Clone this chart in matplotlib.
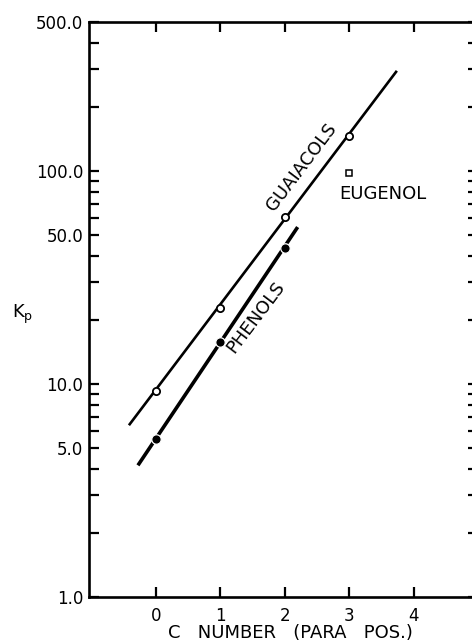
import numpy as np
import matplotlib
matplotlib.use("Agg")
import matplotlib.pyplot as plt
from matplotlib.ticker import FixedLocator, FixedFormatter, NullFormatter

# ---- data ----
guaiacol_x = [0, 1, 2, 3]
guaiacol_kp = [9.3, 22.7, 60.8, 146.0]
guaiacol_line_x = [-0.42, 3.74]
guaiacol_line_kp = [6.4, 295.0]

phenol_x = [0, 1, 2]
phenol_kp = [5.5, 15.7, 43.5]
phenol_line_x = [-0.28, 2.2]
phenol_line_kp = [4.15, 54.5]

eugenol_x = [3]
eugenol_kp = [98.0]

x_ticks = [0, 1, 2, 3, 4]
x_ticklabels = ["0", "1", "2", "3", "4"]
y_major = [1, 5, 10, 50, 100, 500]
y_major_labels = ["1.0", "5.0", "10.0", "50.0", "100.0", "500.0"]
y_minor = [2, 3, 4, 6, 7, 8, 9, 20, 30, 40, 60, 70, 80, 90, 200, 300, 400]

plt.rcParams['font.family'] = ['DejaVu Sans']

W, H = 472, 644
fig = plt.figure(figsize=(W / 100, H / 100), dpi=100)
left, right, top, bottom = 89, 478, 22, 597
ax = fig.add_axes([left / W, 1 - bottom / H, (right - left) / W, (bottom - top) / H])

ax.set_yscale('log')
ax.set_xlim(-1.04, 5.0)
ax.set_ylim(1, 500)

# lines
ax.plot(guaiacol_line_x, guaiacol_line_kp, color='black', lw=1.9, solid_capstyle='butt', zorder=2)
ax.plot(phenol_line_x, phenol_line_kp, color='black', lw=2.6, solid_capstyle='butt', zorder=2)

# points
ax.plot(guaiacol_x, guaiacol_kp, 'o', ms=5.2, mfc='white', mec='black', mew=1.3, zorder=3)
ax.plot(phenol_x, phenol_kp, 'o', ms=6.8, mfc='black', mec='white', mew=0.9, zorder=3)
ax.plot(eugenol_x, eugenol_kp, 's', ms=4.0, mfc='white', mec='black', mew=1.1, zorder=3)

# labels on the plot
ax.text(2.26, 104, "GUAIACOLS", rotation=53, ha='center', va='center', fontsize=13,
        rotation_mode='anchor')
ax.text(1.55, 20.6, "PHENOLS", rotation=53, ha='center', va='center', fontsize=13,
        rotation_mode='anchor')
ax.text(2.85, 78, "EUGENOL", ha='left', va='center', fontsize=13)

# ticks
ax.yaxis.set_major_locator(FixedLocator(y_major))
ax.yaxis.set_major_formatter(FixedFormatter(y_major_labels))
ax.yaxis.set_minor_locator(FixedLocator(y_minor))
ax.yaxis.set_minor_formatter(NullFormatter())
ax.xaxis.set_major_locator(FixedLocator(x_ticks))
ax.xaxis.set_major_formatter(FixedFormatter(x_ticklabels))
ax.xaxis.set_minor_locator(FixedLocator([]))

ax.tick_params(axis='both', which='both', direction='in', width=1.6, length=7.5,
               top=True, right=True, labelsize=12, color='black')
ax.tick_params(axis='y', pad=4)
ax.tick_params(axis='x', pad=7)

for s in ax.spines.values():
    s.set_linewidth(1.9)

ax.set_xlabel("C   NUMBER   (PARA   POS.)", fontsize=13)
ax.xaxis.set_label_coords(0.517, -0.072)
ax.xaxis.label.set_va('baseline')

ax.set_ylabel(r"K$_{\mathregular{p}}$", fontsize=13, rotation=0, ha='left', va='baseline')
ax.yaxis.set_label_coords(-0.197, 0.485)

fig.savefig("out.png", dpi=100)
